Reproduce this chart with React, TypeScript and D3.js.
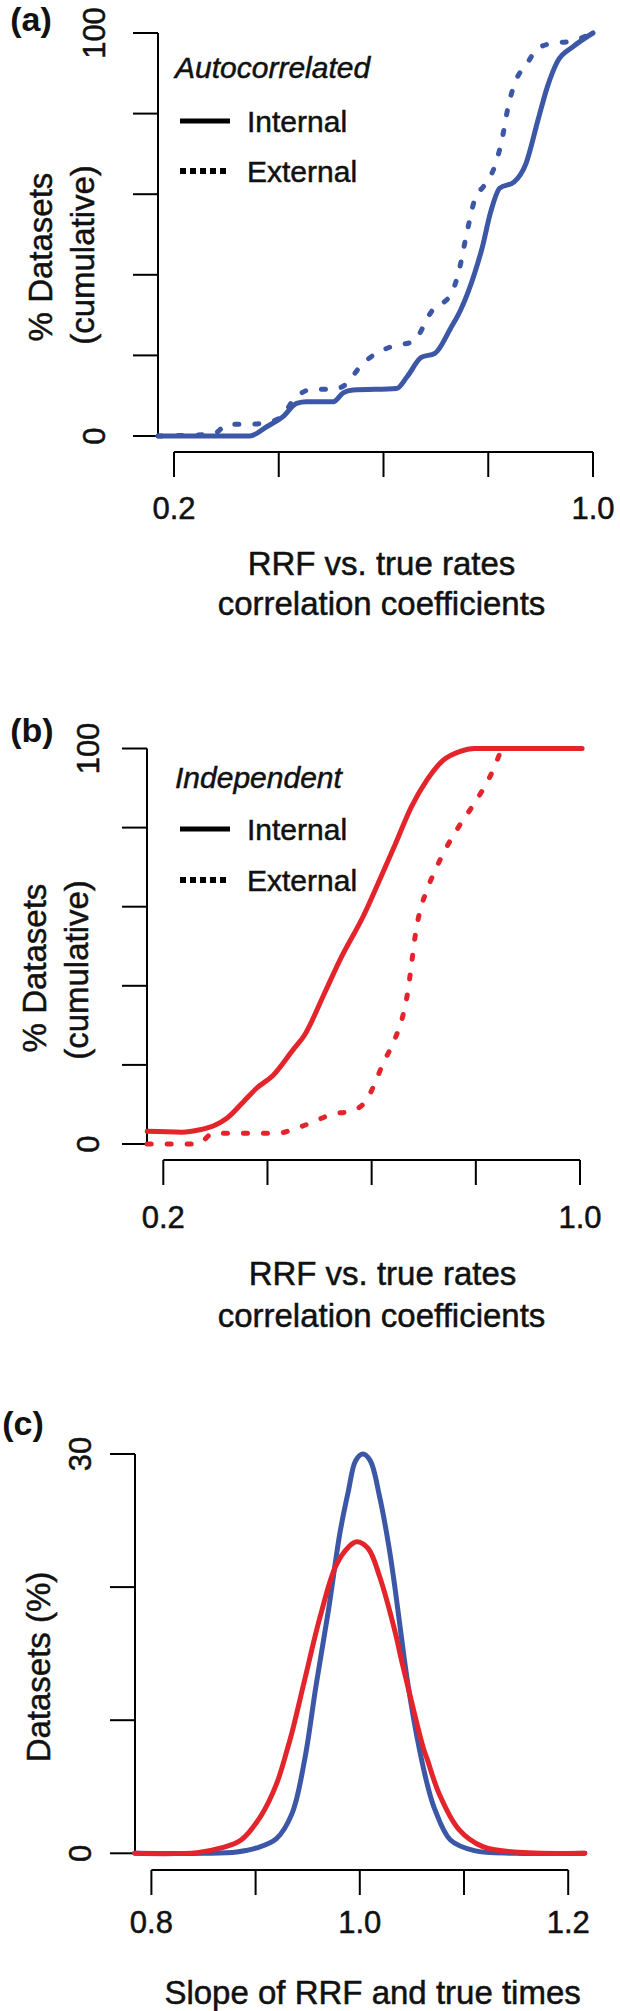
import React from "react";
import * as d3 from "d3";

const BLUE = "#3d57a7";
const RED = "#e3242b";
const FONT = "'Liberation Sans', Arial, Helvetica, sans-serif";

// ---------- Panel (a): Autocorrelated ----------
const aInternalX = [0.1695, 0.25, 0.345, 0.377, 0.408, 0.434, 0.453, 0.504, 0.523, 0.542, 0.625, 0.645, 0.672, 0.698, 0.728, 0.747, 0.774, 0.789, 0.804, 0.822, 0.849, 0.872, 0.895, 0.913, 0.932, 0.962, 1.0];
const aInternalY = [0, 0, 0, 2.3, 4.8, 8.1, 8.5, 8.5, 10.7, 11.4, 11.8, 14.7, 19.5, 20.5, 26.7, 31.2, 40.4, 47, 55.3, 61.5, 63, 67.6, 78.4, 86.7, 92.9, 96.6, 100];
const aExternalX = [0.1695, 0.275, 0.303, 0.342, 0.377, 0.405, 0.431, 0.466, 0.504, 0.53, 0.555, 0.615, 0.656, 0.694, 0.728, 0.743, 0.759, 0.774, 0.793, 0.812, 0.826, 0.838, 0.853, 0.872, 0.895, 0.925, 0.955, 1.0];
const aExternalY = [0, 0.5, 2.9, 2.9, 3.3, 4.8, 9.4, 11.6, 11.6, 13, 17.2, 22.2, 23.4, 31.3, 35, 40.4, 50.3, 58.6, 62.3, 66.8, 73.4, 81.7, 88.3, 92, 96.2, 97.5, 97.9, 100];

// ---------- Panel (b): Independent ----------
const bInternalX = [0.169, 0.236, 0.27, 0.30, 0.322, 0.354, 0.379, 0.411, 0.449, 0.471, 0.509, 0.539, 0.585, 0.615, 0.646, 0.676, 0.706, 0.737, 0.770, 0.797, 1.004];
const bInternalY = [3.2, 3.0, 3.6, 4.8, 6.5, 10.7, 14.1, 17.4, 23.8, 27.5, 38, 46.5, 57.9, 66.7, 76, 85.2, 92, 97, 99.3, 100, 100];
const bExternalX = [0.169, 0.266, 0.296, 0.418, 0.456, 0.488, 0.523, 0.562, 0.590, 0.606, 0.622, 0.638, 0.646, 0.661, 0.670, 0.677, 0.684, 0.692, 0.702, 0.722, 0.744, 0.767, 0.797, 0.813, 0.836, 0.85, 0.86, 1.004];
const bExternalY = [0, 0, 2.7, 2.7, 4, 5.6, 7.5, 8.4, 11.1, 15.3, 20.4, 24.6, 27, 33, 39, 46, 53, 58.5, 62.8, 69.2, 75.1, 80.2, 86.1, 89.5, 95.3, 99.5, 100, 100];

// ---------- Panel (c): slope distributions ----------
const cBlueX = [0.784, 0.85, 0.882, 0.901, 0.92, 0.935, 0.947, 0.958, 0.970, 0.981, 0.989, 0.996, 1.003, 1.010, 1.019, 1.028, 1.034, 1.040, 1.046, 1.055, 1.065, 1.072, 1.087, 1.11, 1.15, 1.216];
const cBlueY = [0, 0, 0.1, 0.4, 1.1, 3, 7, 12.6, 18.3, 24.1, 27.2, 29.5, 30, 29.5, 26.8, 23.0, 19.8, 16.2, 12.8, 8.7, 5.1, 3.3, 1.0, 0.2, 0, 0];
const cRedX = [0.784, 0.844, 0.867, 0.886, 0.905, 0.920, 0.930, 0.935, 0.947, 0.962, 0.977, 0.989, 0.997, 1.008, 1.019, 1.034, 1.040, 1.049, 1.061, 1.065, 1.076, 1.095, 1.118, 1.148, 1.216];
const cRedY = [0, 0.05, 0.4, 1.0, 2.8, 5.2, 7.7, 9.1, 13, 17.8, 21.6, 23, 23.4, 22.9, 20.8, 16.6, 14.5, 11.6, 7.9, 7.0, 4.5, 1.8, 0.5, 0.1, 0];

// ---------- ticks ----------
const cdfTicksY = [0, 20, 40, 60, 80, 100];
const cdfTickLabelsY = ["0", "", "", "", "", "100"];
const cdfTicksX = [0.2, 0.4, 0.6, 0.8, 1.0];
const cdfTickLabelsX = ["0.2", "", "", "", "1.0"];
const cTicksY = [0, 10, 20, 30];
const cTickLabelsY = ["0", "", "", "30"];
const cTicksX = [0.8, 0.9, 1.0, 1.1, 1.2];
const cTickLabelsX = ["0.8", "", "1.0", "", "1.2"];

const zip = (xs: number[], ys: number[]) => xs.map((x, i) => [x, ys[i]] as [number, number]);

type Series = { xs: number[]; ys: number[]; color: string; dotted?: boolean };

type PanelProps = {
  xDomain: [number, number];
  xRange: [number, number];
  yDomain: [number, number];
  yRange: [number, number];
  axisXY: number;
  axisYX: number;
  xTicks: number[];
  xTickLabels: string[];
  yTicks: number[];
  yTickLabels: string[];
  yLabelX: number;
  xLabelY: number;
  series: Series[];
  smooth?: boolean;
};

const TICK = 25;
const TICK_FS = 31;
const TXT_STROKE = 0.5;

function Panel(p: PanelProps) {
  const x = d3.scaleLinear().domain(p.xDomain).range(p.xRange);
  const y = d3.scaleLinear().domain(p.yDomain).range(p.yRange);
  const line = d3
    .line<[number, number]>()
    .x((d) => x(d[0]))
    .y((d) => y(d[1]))
    .curve(p.smooth ? d3.curveCatmullRom.alpha(0.5) : d3.curveMonotoneX);
  const yt = p.yTicks.map((t) => y(t));
  const xt = p.xTicks.map((t) => x(t));
  return (
    <g>
      <line x1={p.axisYX} x2={p.axisYX} y1={Math.min(...yt)} y2={Math.max(...yt)} stroke="#000" strokeWidth={2} />
      {p.yTicks.map((t, i) => (
        <g key={"yt" + i}>
          <line x1={p.axisYX - TICK} x2={p.axisYX} y1={y(t)} y2={y(t)} stroke="#000" strokeWidth={2} />
          {p.yTickLabels[i] && (
            <text
              transform={`translate(${p.yLabelX + 0.36 * TICK_FS},${y(t)}) rotate(-90)`}
              textAnchor="middle"
              fontSize={TICK_FS}
              fontFamily={FONT}
              fill="#111"
              stroke="#111"
              strokeWidth={TXT_STROKE}
            >
              {p.yTickLabels[i]}
            </text>
          )}
        </g>
      ))}
      <line x1={Math.min(...xt)} x2={Math.max(...xt)} y1={p.axisXY} y2={p.axisXY} stroke="#000" strokeWidth={2} />
      {p.xTicks.map((t, i) => (
        <g key={"xt" + i}>
          <line x1={x(t)} x2={x(t)} y1={p.axisXY} y2={p.axisXY + TICK} stroke="#000" strokeWidth={2} />
          {p.xTickLabels[i] && (
            <text
              x={x(t)}
              y={p.xLabelY + 0.36 * TICK_FS}
              textAnchor="middle"
              fontSize={TICK_FS}
              fontFamily={FONT}
              fill="#111"
              stroke="#111"
              strokeWidth={TXT_STROKE}
            >
              {p.xTickLabels[i]}
            </text>
          )}
        </g>
      ))}
      {p.series.map((s, i) => (
        <path
          key={"s" + i}
          d={line(zip(s.xs, s.ys)) || ""}
          fill="none"
          stroke={s.color}
          strokeWidth={5}
          strokeLinecap="round"
          strokeLinejoin="round"
          strokeDasharray={s.dotted ? "4 16" : undefined}
        />
      ))}
    </g>
  );
}

const TITLE_FS = 33;
const LEG_FS = 30;

function HText({ x, y, text, fs = TITLE_FS, anchor = "middle", italic = false, bold = false }: any) {
  return (
    <text
      x={x}
      y={y + 0.36 * fs}
      textAnchor={anchor}
      fontSize={fs}
      fontFamily={FONT}
      fontStyle={italic ? "italic" : "normal"}
      fontWeight={bold ? "bold" : "normal"}
      fill="#111"
      stroke="#111"
      strokeWidth={bold ? 0 : TXT_STROKE}
    >
      {text}
    </text>
  );
}

function VText({ x, y, text, fs = TITLE_FS }: any) {
  return (
    <text
      transform={`translate(${x + 0.33 * fs},${y}) rotate(-90)`}
      textAnchor="middle"
      fontSize={fs}
      fontFamily={FONT}
      fill="#111"
      stroke="#111"
      strokeWidth={TXT_STROKE}
    >
      {text}
    </text>
  );
}

function Legend({ x, yTitle, title, yInt, yExt }: any) {
  return (
    <g>
      <HText x={x} y={yTitle} text={title} fs={LEG_FS} anchor="start" italic />
      <line x1={x + 5} x2={x + 55} y1={yInt} y2={yInt} stroke="#000" strokeWidth={5} />
      <line x1={x + 5} x2={x + 51} y1={yExt} y2={yExt} stroke="#000" strokeWidth={6} strokeDasharray="6 4" />
      <HText x={x + 72} y={yInt} text="Internal" fs={LEG_FS} anchor="start" />
      <HText x={x + 72} y={yExt} text="External" fs={LEG_FS} anchor="start" />
    </g>
  );
}

export default function App() {
  return (
    <svg
      width={620}
      height={2011}
      viewBox="0 0 620 2011"
      style={{ position: "absolute", left: 0, top: 0, display: "block", background: "#fff" }}
    >
      <rect x={0} y={0} width={620} height={2011} fill="#fff" />

      {/* ---------- (a) ---------- */}
      <HText x={31} y={19} text="(a)" fs={34} bold />
      <Panel
        xDomain={[0.2, 1.0]}
        xRange={[174, 593]}
        yDomain={[0, 100]}
        yRange={[436, 33]}
        axisXY={452}
        axisYX={158}
        xTicks={cdfTicksX}
        xTickLabels={cdfTickLabelsX}
        yTicks={cdfTicksY}
        yTickLabels={cdfTickLabelsY}
        yLabelX={94}
        xLabelY={508}
        series={[
          { xs: aExternalX, ys: aExternalY, color: BLUE, dotted: true },
          { xs: aInternalX, ys: aInternalY, color: BLUE },
        ]}
      />
      <Legend x={175} yTitle={67} title="Autocorrelated" yInt={121} yExt={171} />
      <VText x={41.5} y={257} text="% Datasets" />
      <VText x={83} y={255} text="(cumulative)" />
      <HText x={381.5} y={563} text="RRF vs. true rates" />
      <HText x={381.5} y={603} text="correlation coefficients" />

      {/* ---------- (b) ---------- */}
      <HText x={32} y={730} text="(b)" fs={34} bold />
      <Panel
        xDomain={[0.2, 1.0]}
        xRange={[163.3, 580]}
        yDomain={[0, 100]}
        yRange={[1144, 748.5]}
        axisXY={1160}
        axisYX={147}
        xTicks={cdfTicksX}
        xTickLabels={cdfTickLabelsX}
        yTicks={cdfTicksY}
        yTickLabels={cdfTickLabelsY}
        yLabelX={88}
        xLabelY={1217}
        series={[
          { xs: bExternalX, ys: bExternalY, color: RED, dotted: true },
          { xs: bInternalX, ys: bInternalY, color: RED },
        ]}
      />
      <Legend x={175} yTitle={777} title="Independent" yInt={829} yExt={880} />
      <VText x={35.6} y={968} text="% Datasets" />
      <VText x={77} y={970} text="(cumulative)" />
      <HText x={382.5} y={1273} text="RRF vs. true rates" />
      <HText x={381.5} y={1315} text="correlation coefficients" />

      {/* ---------- (c) ---------- */}
      <HText x={23} y={1423} text="(c)" fs={34} bold />
      <Panel
        xDomain={[0.8, 1.2]}
        xRange={[151.4, 568.2]}
        yDomain={[0, 30]}
        yRange={[1853.3, 1454]}
        axisXY={1870}
        axisYX={135}
        xTicks={cTicksX}
        xTickLabels={cTickLabelsX}
        yTicks={cTicksY}
        yTickLabels={cTickLabelsY}
        yLabelX={80}
        xLabelY={1922}
        smooth
        series={[
          { xs: cBlueX, ys: cBlueY, color: BLUE },
          { xs: cRedX, ys: cRedY, color: RED },
        ]}
      />
      <VText x={39.5} y={1667} text="Datasets (%)" />
      <HText x={372.6} y={1992} text="Slope of RRF and true times" />
    </svg>
  );
}
